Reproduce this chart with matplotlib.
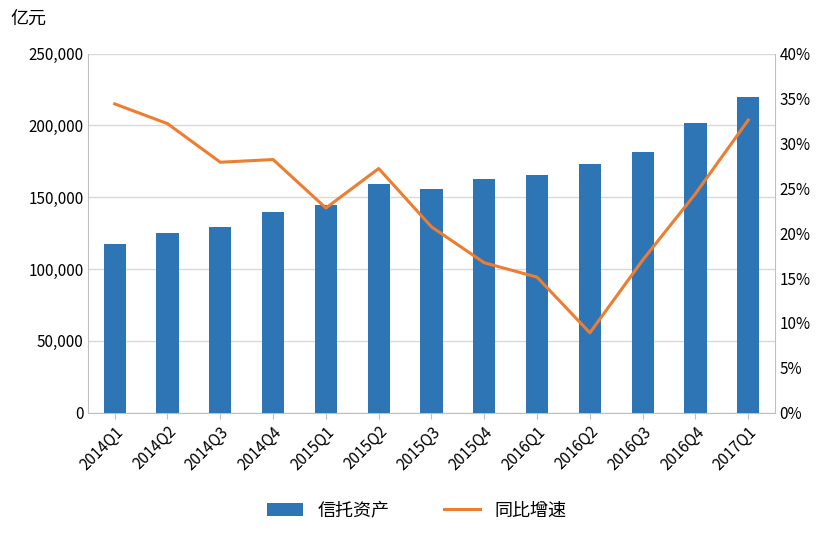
import matplotlib.pyplot as plt
from matplotlib import font_manager
from matplotlib.ticker import FuncFormatter

# pick whichever CJK family matplotlib actually registered
names = {f.name for f in font_manager.fontManager.ttflist}
cjk = [n for n in ['Noto Sans CJK SC', 'Noto Sans CJK JP', 'Noto Sans CJK TC',
                   'Noto Sans CJK KR', 'Noto Sans SC'] if n in names]
if not cjk:
    cjk = sorted(n for n in names if 'CJK' in n)
plt.rcParams['font.family'] = 'sans-serif'
plt.rcParams['font.sans-serif'] = cjk + ['DejaVu Sans']

quarters = ['2014Q1', '2014Q2', '2014Q3', '2014Q4', '2015Q1', '2015Q2', '2015Q3',
            '2015Q4', '2016Q1', '2016Q2', '2016Q3', '2016Q4', '2017Q1']
assets = [117500, 125000, 129000, 140000, 144500, 159000, 156000,
          163000, 165500, 173000, 181500, 202000, 220000]
growth = [34.4, 32.2, 27.9, 28.2, 22.8, 27.2, 20.7, 16.7, 15.1, 8.9, 17.0, 24.4, 32.6]

fig, ax = plt.subplots(figsize=(8.33, 5.36), dpi=100)
fig.subplots_adjust(left=0.106, right=0.93, top=0.90, bottom=0.23)

x = range(len(quarters))
ax.bar(x, assets, width=0.42, color='#2E75B6', label='信托资产', zorder=3)
ax.set_ylim(0, 250000)
ax.set_yticks(range(0, 250001, 50000))
ax.yaxis.set_major_formatter(FuncFormatter(lambda v, p: f'{int(v):,}'))
ax.grid(axis='y', color='#d9d9d9', linewidth=1, zorder=0)
ax.set_xlim(-0.5, len(quarters) - 0.5)
ax.set_xticks(list(x))
ax.set_xticklabels(quarters, rotation=45, ha='right', rotation_mode='anchor')
ax.tick_params(axis='both', labelsize=11, length=0)
ax.tick_params(axis='x', length=4, color='#bfbfbf')
for s in ['top', 'right']:
    ax.spines[s].set_visible(False)
for s in ['left', 'bottom']:
    ax.spines[s].set_color('#bfbfbf')

ax2 = ax.twinx()
ax2.plot(x, growth, color='#ED7D31', linewidth=2.2, label='同比增速')
ax2.set_ylim(0, 40)
ax2.set_yticks(range(0, 41, 5))
ax2.yaxis.set_major_formatter(FuncFormatter(lambda v, p: f'{int(v)}%'))
ax2.tick_params(axis='y', labelsize=11, length=0)
for s in ['top', 'left', 'bottom']:
    ax2.spines[s].set_visible(False)
ax2.spines['right'].set_color('#bfbfbf')

fig.text(0.012, 0.955, '亿元', fontsize=13)

h1, l1 = ax.get_legend_handles_labels()
h2, l2 = ax2.get_legend_handles_labels()
fig.legend(h1 + h2, l1 + l2, loc='lower center', ncol=2, frameon=False,
           fontsize=13, bbox_to_anchor=(0.5, 0.0), columnspacing=3)

fig.savefig('out.png')
